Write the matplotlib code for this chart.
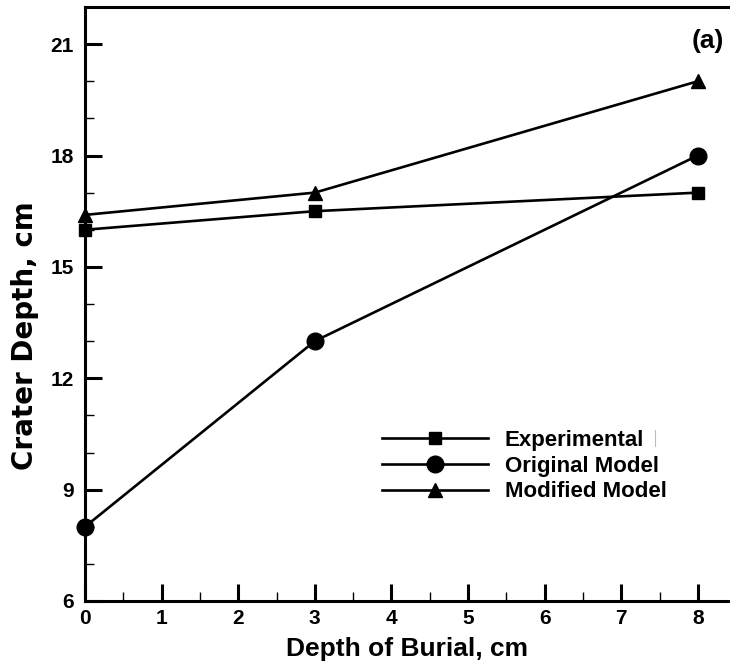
import matplotlib
matplotlib.use('Agg')
import matplotlib.pyplot as plt
from matplotlib.lines import Line2D
from matplotlib.ticker import MultipleLocator

plt.rcParams['font.family'] = ['Liberation Sans', 'DejaVu Sans']
plt.rcParams['font.weight'] = 'bold'

# depth of burial (cm) vs crater depth (cm)
depth = [0, 3, 8]
experimental = [16.0, 16.5, 17.0]
original_model = [8.0, 13.0, 18.0]
modified_model = [16.4, 17.0, 20.0]

fig = plt.figure(figsize=(7.30, 6.69), dpi=100)
W, H = 730, 669
ax = fig.add_axes([85 / W, (H - 601) / H, (730 - 85) / W, (601 - 7) / H])

kw = dict(color='black', lw=1.9, clip_on=False, zorder=3)
ax.plot(depth, experimental, marker='s', ms=9, label='Experimental', **kw)
ax.plot(depth, original_model, marker='o', ms=12, label='Original Model', **kw)
ax.plot(depth, modified_model, marker='^', ms=10, label='Modified Model', **kw)

for sp in ['left', 'bottom', 'top']:
    ax.spines[sp].set_linewidth(2.2)
ax.spines['right'].set_visible(False)

ax.set_xlim(0, (730 - 85) / 76.6)
ax.set_ylim(6, 22)
ax.xaxis.set_major_locator(MultipleLocator(1))
ax.xaxis.set_minor_locator(MultipleLocator(0.5))
ax.yaxis.set_major_locator(MultipleLocator(3))
ax.yaxis.set_minor_locator(MultipleLocator(1))
ax.tick_params(which='major', direction='in', length=12, width=2.2,
               labelsize=15, pad=8)
ax.tick_params(which='minor', direction='in', length=6.5, width=1.0)
ax.tick_params(axis='x', which='major', pad=6)
for lab in ax.get_xticklabels() + ax.get_yticklabels():
    lab.set_fontweight('bold')

ax.set_xlabel('Depth of Burial, cm', fontsize=19, fontweight='bold', labelpad=6)
ax.set_ylabel('Crater Depth, cm', fontsize=20, fontweight='bold',
              family='DejaVu Sans')
ax.yaxis.set_label_coords(-46 / 645, (601 - 336) / 594)

ax.text(7.92, 21.08, '(a)', fontsize=19, fontweight='bold', va='center', ha='left')

leg = ax.legend(loc='upper left', bbox_to_anchor=((382 - 85) / 645, (601 - 430) / 594),
                frameon=False, handlelength=4.77, handletextpad=0.75,
                labelspacing=0.21, borderpad=0, borderaxespad=0,
                prop={'size': 16, 'weight': 'bold'})

fig.add_artist(Line2D([655 / W, 655 / W], [(H - 446) / H, (H - 430) / H],
                      color='#bbbbbb', lw=0.8))

fig.savefig('out.png', dpi=100)
